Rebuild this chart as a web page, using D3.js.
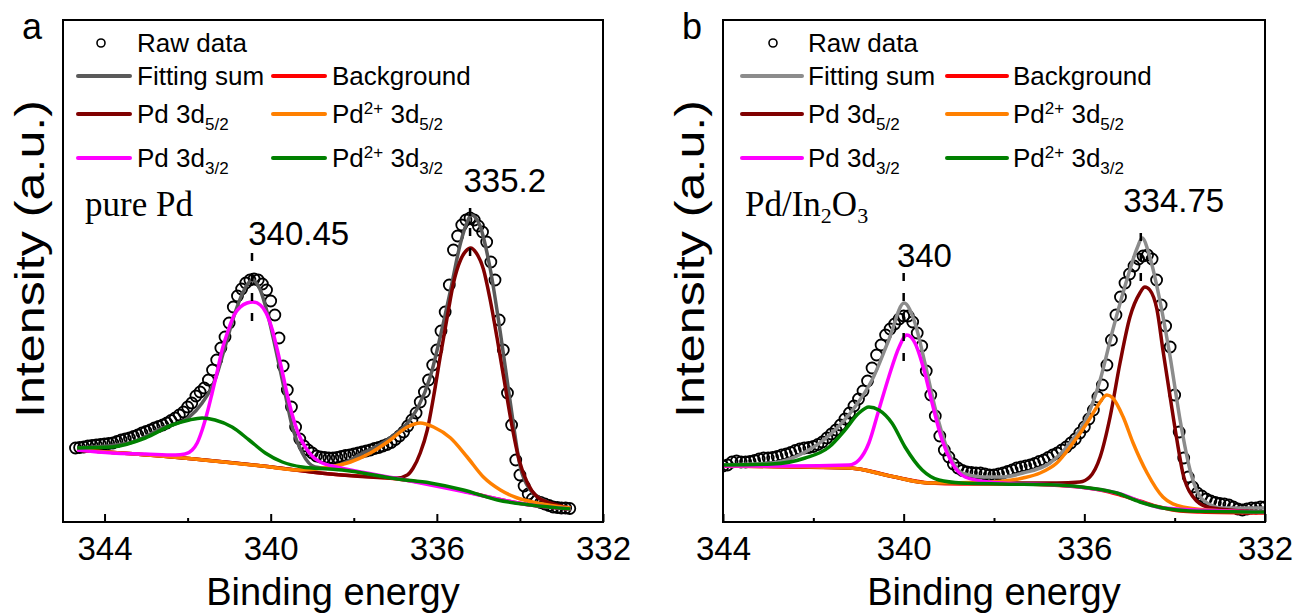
<!DOCTYPE html>
<html>
<head>
<meta charset="utf-8">
<script src="https://cdn.jsdelivr.net/npm/d3@7"></script>
<style>
  body { margin: 0; background: #fff; }
  svg { display: block; }
  text { font-family: Arial, "Liberation Sans", sans-serif; fill: #000; }
  text.serif { font-family: "Times New Roman", "Liberation Serif", serif; }
</style>
</head>
<body>
<svg id="chart" width="1297" height="615"></svg>
<script>
// ---- data: panel a (pure Pd) ----
// raw scan, 0.1 eV step starting at 344.7 eV
const rawStartA = 344.7;
const rawStepA = 0.1;
const rawA = [
  14.8, 14.9, 15.0, 15.2, 15.3, 15.4, 15.5, 15.6, 15.7, 15.8,
  16.1, 16.4, 16.6, 16.8, 17.1, 17.4, 17.8, 18.1, 18.4, 18.8,
  19.1, 19.4, 19.8, 20.3, 20.8, 21.4, 22.0, 23.0, 23.8, 25.2,
  26.0, 26.8, 28.4, 30.4, 32.4, 34.8, 37.0, 39.8, 43.0, 45.2,
  46.6, 47.8, 48.4, 48.6, 48.4, 47.6, 46.4, 44.2, 41.4, 36.8,
  31.2, 26.4, 23.0, 19.0, 16.6, 15.2, 14.4, 13.8, 13.2, 13.0,
  12.9, 12.8, 12.8, 12.9, 13.1, 13.3, 13.4, 13.6, 13.8, 14.0,
  14.2, 14.4, 14.7, 14.9, 15.2, 15.5, 15.9, 16.5, 17.2, 18.0,
  19.2, 20.4, 21.8, 24.0, 26.0, 28.4, 31.4, 34.4, 38.2, 42.0,
  47.4, 54.4, 57.2, 59.4, 60.4, 60.8, 60.4, 59.2, 58.0, 56.0,
  52.0, 48.4, 40.4, 34.4, 25.8, 19.4, 12.4, 9.4, 7.2, 5.6,
  4.6, 4.2, 3.9, 3.6, 3.3, 3.0, 2.9, 2.8, 2.8, 2.7
];
const fitSumA = [
  [344.66, 14.8], [343.41, 15.8], [342.61, 18.8], [341.96, 21.0], [341.65, 23.8],
  [341.34, 28.4], [341.10, 35.0], [340.86, 41.8], [340.64, 46.4], [340.45, 48.4],
  [340.25, 46.4], [340.08, 41.8], [339.89, 35.0], [339.67, 26.4], [339.48, 19.0],
  [339.24, 13.8], [338.93, 11.0], [338.69, 10.8], [338.35, 11.4], [337.77, 13.8],
  [337.12, 16.8], [336.71, 19.8], [336.45, 23.0], [336.16, 29.0], [335.92, 37.0],
  [335.67, 46.4], [335.43, 55.8], [335.27, 60.0], [335.17, 61.4], [334.97, 59.4],
  [334.71, 50.4], [334.47, 37.8], [334.23, 23.8], [333.99, 11.0], [333.75, 6.4],
  [333.34, 4.0], [332.78, 2.8]
];
const backgroundA = [
  [344.66, 14.4], [342.37, 13.0], [340.20, 11.2], [338.57, 9.6], [336.95, 8.6],
  [336.16, 7.6], [335.36, 6.2], [334.54, 4.6], [333.75, 3.4], [332.78, 2.6]
];
const pd52A = [
  [344.66, 14.4], [342.37, 13.0], [340.20, 11.2], [338.57, 9.6], [336.95, 8.8],
  [336.71, 9.4], [336.57, 10.8], [336.40, 13.8], [336.23, 18.4], [336.08, 25.0],
  [335.92, 33.0], [335.75, 41.0], [335.60, 47.8], [335.43, 52.4], [335.30, 54.2],
  [335.19, 54.8], [335.05, 53.8], [334.88, 50.6], [334.72, 44.6], [334.55, 36.8],
  [334.38, 28.4], [334.20, 19.6], [334.02, 12.4], [333.82, 7.8], [333.58, 5.0],
  [333.27, 3.8], [332.78, 2.8]
];
const pd2p52A = [
  [344.66, 14.4], [342.37, 13.0], [340.20, 11.2], [339.29, 10.4], [338.57, 11.0],
  [338.08, 12.0], [337.60, 13.8], [337.12, 16.4], [336.71, 19.0], [336.40, 19.8],
  [336.08, 19.0], [335.67, 16.8], [335.27, 13.0], [334.88, 9.0], [334.47, 6.4],
  [334.06, 4.8], [333.58, 3.8], [332.78, 2.8]
];
const pd32A = [
  [344.66, 14.4], [343.82, 13.8], [343.02, 13.6], [342.30, 13.4], [342.06, 13.6],
  [341.89, 14.4], [341.77, 15.8], [341.65, 18.4], [341.53, 21.8], [341.41, 25.8],
  [341.29, 30.0], [341.17, 34.4], [341.02, 38.4], [340.88, 41.4], [340.73, 43.0],
  [340.57, 43.8], [340.43, 44.0], [340.25, 43.4], [340.11, 41.8], [339.96, 38.4],
  [339.84, 34.4], [339.72, 30.0], [339.60, 25.4], [339.48, 21.4], [339.34, 17.8],
  [339.17, 15.0], [338.98, 13.0], [338.76, 11.8], [338.52, 11.2], [338.20, 10.6],
  [336.88, 8.6], [335.43, 6.2], [333.75, 3.4], [332.78, 2.6]
];
const pd2p32A = [
  [344.66, 14.8], [343.82, 15.0], [343.02, 16.8], [342.37, 19.4], [341.96, 20.4],
  [341.65, 20.8], [341.34, 20.4], [340.93, 19.0], [340.52, 16.4], [340.13, 13.8],
  [339.72, 12.0], [339.24, 11.0], [338.59, 10.6], [338.28, 10.4], [336.95, 8.6],
  [336.16, 7.8], [335.36, 6.4], [334.54, 4.4], [333.75, 3.4], [332.78, 2.6]
];
const peaksA = [
  { e: 340.45, label: "340.45", dashTop: 53.8, dashBottom: 38.0, textE: 340.54, textI: 55.4 },
  { e: 335.2, label: "335.2", dashTop: 62.8, dashBottom: 51.4, textE: 335.36, textI: 66.0 }
];

// ---- data: panel b (Pd/In2O3) ----
const rawStartB = 344.0;
const rawStepB = 0.1;
const rawB = [
  11.2, 11.4, 12.0, 12.2, 12.0, 12.0, 12.1, 12.3, 12.6, 12.8,
  12.8, 12.9, 13.1, 13.4, 13.6, 13.9, 14.3, 14.6, 14.8, 14.9,
  15.1, 15.5, 16.0, 16.8, 17.6, 18.4, 19.4, 20.6, 21.8, 23.2,
  24.6, 26.2, 28.2, 30.8, 33.4, 35.4, 37.4, 38.6, 39.6, 40.6,
  41.2, 41.2, 40.0, 37.8, 35.2, 30.2, 25.4, 21.2, 17.2, 14.4,
  13.0, 11.6, 10.8, 10.3, 10.0, 9.9, 9.8, 9.8, 9.6, 9.4,
  9.4, 9.6, 9.8, 10.1, 10.4, 10.8, 11.0, 11.2, 11.4, 11.7,
  12.1, 12.4, 12.9, 13.4, 13.8, 14.4, 15.0, 15.8, 16.6, 17.8,
  19.0, 20.6, 22.4, 25.0, 27.4, 31.4, 36.4, 41.4, 45.0, 47.8,
  49.6, 51.2, 52.6, 53.2, 53.4, 52.6, 48.4, 43.4, 39.2, 35.0,
  25.4, 18.0, 12.8, 9.0, 7.0, 5.8, 5.2, 4.6, 4.2, 3.9,
  3.7, 3.6, 3.4, 3.0, 2.6, 2.4, 2.6, 2.8, 2.8, 3.0,
  3.0
];
const fitSumB = [
  [344.0, 11.4], [342.92, 11.8], [342.18, 14.0], [341.59, 17.8], [341.08, 23.0],
  [340.70, 28.4], [340.33, 36.4], [339.99, 43.8], [339.75, 39.8], [339.53, 31.8],
  [339.31, 23.0], [339.00, 13.8], [338.71, 9.8], [338.20, 9.0], [337.82, 9.0],
  [337.36, 9.8], [336.76, 11.8], [336.32, 15.8], [335.94, 21.0], [335.65, 28.4],
  [335.37, 38.4], [335.06, 48.4], [334.83, 54.8], [334.72, 56.8], [334.55, 53.0],
  [334.33, 44.4], [334.10, 33.0], [333.88, 20.4], [333.66, 10.4], [333.37, 4.4],
  [332.93, 2.8], [332.0, 2.8]
];
const backgroundB = [
  [344.0, 11.2], [342.52, 11.0], [341.19, 10.8], [340.75, 10.2], [340.30, 9.2],
  [339.86, 8.4], [339.42, 7.8], [338.75, 7.6], [337.87, 7.6], [336.76, 7.4],
  [336.10, 7.0], [335.65, 6.4], [335.21, 5.4], [334.77, 4.2], [334.33, 3.0],
  [333.88, 2.2], [333.44, 2.0], [332.0, 1.8]
];
const pd52B = [
  [344.0, 11.2], [341.19, 10.8], [340.30, 9.2], [339.42, 7.8], [338.09, 7.8],
  [336.61, 7.8], [336.10, 8.0], [335.88, 9.0], [335.65, 13.0], [335.43, 21.0],
  [335.21, 31.8], [334.99, 41.0], [334.77, 45.8], [334.66, 47.0], [334.55, 46.4],
  [334.39, 42.4], [334.26, 34.4], [334.10, 25.0], [333.95, 16.4], [333.82, 9.8],
  [333.59, 5.0], [333.28, 3.0], [332.78, 2.4], [332.0, 2.0]
];
const pd2p52B = [
  [344.0, 11.2], [341.19, 10.8], [340.30, 9.2], [339.42, 7.8], [338.09, 8.0],
  [337.36, 8.8], [336.98, 9.8], [336.61, 11.8], [336.25, 15.8], [335.94, 19.8],
  [335.72, 23.0], [335.50, 25.4], [335.37, 24.8], [335.14, 21.0], [334.92, 15.8],
  [334.61, 9.8], [334.26, 5.0], [333.82, 3.0], [333.28, 2.4], [332.0, 2.0]
];
const pd32B = [
  [344.0, 11.2], [342.54, 11.2], [341.21, 11.4], [340.99, 12.4], [340.77, 15.8],
  [340.55, 22.4], [340.33, 29.0], [340.10, 35.0], [339.93, 37.4], [339.75, 35.8],
  [339.55, 30.4], [339.37, 23.8], [339.15, 16.4], [338.93, 11.8], [338.64, 9.0],
  [338.11, 8.0], [337.82, 7.8], [336.61, 7.4], [335.28, 5.8], [334.26, 2.8],
  [332.0, 2.0]
];
const pd2p32B = [
  [344.0, 11.4], [342.92, 11.6], [342.18, 12.8], [341.65, 15.0], [341.30, 18.4],
  [340.99, 21.8], [340.77, 23.0], [340.55, 22.4], [340.26, 19.8], [339.97, 15.0],
  [339.59, 10.4], [339.22, 8.4], [338.71, 7.8], [337.82, 7.6], [336.61, 7.4],
  [335.88, 6.8], [335.28, 5.8], [334.77, 4.0], [334.26, 2.8], [333.66, 2.2],
  [332.0, 2.0]
];
const peaksB = [
  { e: 340.0, label: "340", dashTop: 49.8, dashBottom: 31.8, textE: 340.15, textI: 51.0 },
  { e: 334.75, label: "334.75", dashTop: 57.8, dashBottom: 46.4, textE: 335.14, textI: 62.0 }
];

const majorTicks = [344, 340, 336, 332];
const minorTicks = [342, 338, 334];

// legend labels: [text, kind]
const legendRows = [
  [{ key: "raw", label: [["Raw data"]] }],
  [{ key: "sum", label: [["Fitting sum"]] }, { key: "bg", label: [["Background"]] }],
  [{ key: "pd52", label: [["Pd 3d"], ["5/2", "sub"]] },
   { key: "pd2p52", label: [["Pd"], ["2+", "sup"], [" 3d"], ["5/2", "sub"]] }],
  [{ key: "pd32", label: [["Pd 3d"], ["3/2", "sub"]] },
   { key: "pd2p32", label: [["Pd"], ["2+", "sup"], [" 3d"], ["3/2", "sub"]] }]
];

const colors = {
  bg: "#ff0000",
  pd52: "#800000",
  pd2p52: "#ff8000",
  pd32: "#ff00ff",
  pd2p32: "#008000"
};

const panels = [
  {
    tag: "a", left: 63, right: 603, domain: [345, 332], sumColor: "#5a5a5a",
    rawStart: rawStartA, rawStep: rawStepA, raw: rawA,
    curves: { sum: fitSumA, bg: backgroundA, pd52: pd52A, pd2p52: pd2p52A, pd32: pd32A, pd2p32: pd2p32A },
    peaks: peaksA, sample: [["pure Pd"]],
    legend: { line: [15, 67], text: 74, col2: 195, circle: 38 }
  },
  {
    tag: "b", left: 723, right: 1265, domain: [344, 332], sumColor: "#8c8c8c",
    rawStart: rawStartB, rawStep: rawStepB, raw: rawB,
    curves: { sum: fitSumB, bg: backgroundB, pd52: pd52B, pd2p52: pd2p52B, pd32: pd32B, pd2p32: pd2p32B },
    peaks: peaksB, sample: [["Pd/In"], ["2", "sub"], ["O"], ["3", "sub"]],
    legend: { line: [19, 79], text: 85, col2: 205, circle: 50 }
  }
];

const plotTop = 20, plotBottom = 522;
const legendRowY = [23, 56, 94, 138];

const svg = d3.select("#chart");

// writes label pieces with sub/superscripts as tspans
function richText(sel, parts, size, smallSize, subDy, supDy) {
  let shift = 0;
  parts.forEach(([t, kind]) => {
    let target = 0;
    if (kind === "sub") target = subDy;
    if (kind === "sup") target = supDy;
    sel.append("tspan")
      .attr("dy", target - shift)
      .attr("font-size", kind ? smallSize : size)
      .text(t);
    shift = target;
  });
}

function drawPanel(p) {
  const x = d3.scaleLinear().domain(p.domain).range([p.left, p.right]);
  const y = d3.scaleLinear().domain([0, 100.4]).range([plotBottom, plotTop]);
  const g = svg.append("g");

  g.append("clipPath").attr("id", "clip-" + p.tag)
    .append("rect")
    .attr("x", p.left).attr("y", plotTop)
    .attr("width", p.right - p.left).attr("height", plotBottom - plotTop);

  const plot = g.append("g").attr("clip-path", `url(#clip-${p.tag})`);

  // raw data circles
  const rawPts = p.raw.map((v, i) => [p.rawStart - i * p.rawStep, v]);
  plot.append("g")
    .selectAll("circle")
    .data(rawPts)
    .join("circle")
    .attr("cx", d => x(d[0]))
    .attr("cy", d => y(d[1]))
    .attr("r", 5.5)
    .attr("fill", "none")
    .attr("stroke", "#000")
    .attr("stroke-width", 1.8);

  const line = d3.line()
    .x(d => x(d[0]))
    .y(d => y(d[1]))
    .curve(d3.curveMonotoneX);

  const order = ["sum", "bg", "pd52", "pd2p52", "pd32", "pd2p32"];
  order.forEach(k => {
    plot.append("path")
      .datum(p.curves[k])
      .attr("d", line)
      .attr("fill", "none")
      .attr("stroke", k === "sum" ? p.sumColor : colors[k])
      .attr("stroke-width", 3.5)
      .attr("stroke-linejoin", "round");
  });

  // peak markers
  p.peaks.forEach(pk => {
    g.append("line")
      .attr("x1", x(pk.e)).attr("x2", x(pk.e))
      .attr("y1", y(pk.dashTop)).attr("y2", y(pk.dashBottom))
      .attr("stroke", "#000")
      .attr("stroke-width", 2.5)
      .attr("stroke-dasharray", "8 12");
    g.append("text")
      .attr("x", x(pk.textE))
      .attr("y", y(pk.textI))
      .attr("font-size", 33)
      .text(pk.label);
  });

  // frame
  g.append("rect")
    .attr("x", p.left).attr("y", plotTop)
    .attr("width", p.right - p.left).attr("height", plotBottom - plotTop)
    .attr("fill", "none")
    .attr("stroke", "#000")
    .attr("stroke-width", 2);

  // bottom axis, ticks pointing inward
  const ax = g.append("g")
    .attr("transform", `translate(0,${plotBottom})`)
    .call(d3.axisBottom(x).tickValues(majorTicks).tickSize(-8).tickPadding(15).tickFormat(d3.format("d")));
  ax.select(".domain").remove();
  ax.selectAll("line").attr("stroke-width", 2);
  ax.selectAll("text").attr("font-size", 33).attr("font-family", null);

  const axMinor = g.append("g")
    .attr("transform", `translate(0,${plotBottom})`)
    .call(d3.axisBottom(x).tickValues(minorTicks).tickSize(-4).tickFormat(""));
  axMinor.select(".domain").remove();
  axMinor.selectAll("line").attr("stroke-width", 2);

  // axis titles
  g.append("text")
    .attr("x", (p.left + p.right) / 2)
    .attr("y", 605)
    .attr("text-anchor", "middle")
    .attr("font-size", 38)
    .text("Binding energy");

  g.append("text")
    .attr("transform", `translate(${p.left - 19},259) rotate(-90)`)
    .attr("text-anchor", "middle")
    .attr("font-size", 41)
    .attr("textLength", 318)
    .attr("lengthAdjust", "spacingAndGlyphs")
    .text("Intensity (a.u.)");

  // panel tag
  g.append("text")
    .attr("x", p.left - 41)
    .attr("y", 39)
    .attr("font-size", 36)
    .text(p.tag);

  // sample name, serif
  const sample = g.append("text")
    .attr("class", "serif")
    .attr("x", p.left + 22)
    .attr("y", 216)
    .attr("font-size", 35);
  richText(sample, p.sample, 35, 22, 7, -10);

  // legend
  const L = p.legend;
  legendRows.forEach((row, ri) => {
    const cy = plotTop + legendRowY[ri];
    row.forEach((item, ci) => {
      const ox = p.left + ci * L.col2;
      if (item.key === "raw") {
        g.append("circle")
          .attr("cx", p.left + L.circle).attr("cy", cy)
          .attr("r", 4).attr("fill", "none")
          .attr("stroke", "#000").attr("stroke-width", 1.6);
      } else {
        g.append("line")
          .attr("x1", ox + L.line[0]).attr("x2", ox + L.line[1])
          .attr("y1", cy).attr("y2", cy)
          .attr("stroke", item.key === "sum" ? p.sumColor : colors[item.key])
          .attr("stroke-width", 4)
          .attr("stroke-linecap", "round");
      }
      const t = g.append("text")
        .attr("x", ox + L.text)
        .attr("y", cy + 9)
        .attr("font-size", 26);
      richText(t, item.label, 26, 17, 7, -9);
    });
  });
}

panels.forEach(drawPanel);
</script>
</body>
</html>
